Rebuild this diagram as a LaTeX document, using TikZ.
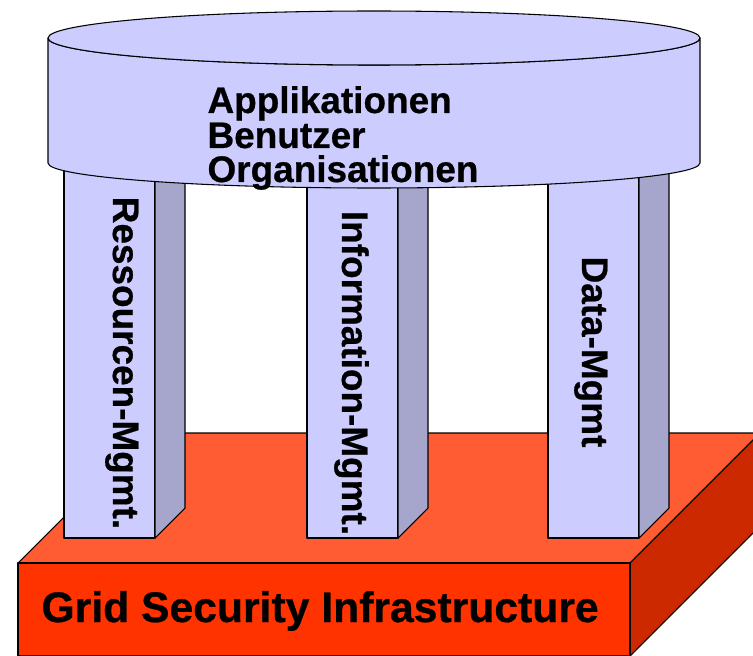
\documentclass[tikz,border=0pt]{standalone}
\usepackage{fontspec}
\setmainfont{Liberation Sans}[BoldFeatures = {FakeBold = 0.6}]
\usetikzlibrary{positioning}
\definecolor{disk}{HTML}{CCCCFF}
\definecolor{pillarside}{HTML}{A6A6CC}
\definecolor{basefront}{HTML}{FF3300}
\definecolor{basetop}{HTML}{FF5C33}
\definecolor{baseright}{HTML}{CC2900}

\begin{document}
\begin{tikzpicture}[x = 0.75pt, y = -0.75pt, line width = 0.8pt, line join = round,
		lbl/.style = {inner sep = 0pt, font = \bfseries\fontsize{27.7}{30}\selectfont},
		biglbl/.style = {inner sep = 0pt, font = \bfseries\fontsize{32}{34}\selectfont}]
		\useasboundingbox (0, 0) rectangle (753, 656);
		\clip (0, 0) rectangle (753, 656);
		%%%%%%%%%%%%%
		\draw [fill = basetop] (18, 563) -- (148, 433) -- (760, 433) -- (630, 563) -- cycle;
		\draw [fill = baseright] (630, 563) -- (760, 433) -- (760, 526) -- (630, 656) -- cycle;
		\draw [fill = basefront] (18, 563) rectangle (630, 656);
		\node [biglbl, anchor = base west] (gsi) at (41, 622) {Grid Security Infrastructure};
		%%%%%%%%%%%%%
		\foreach \px/\tx/\ty/\name/\txt in {64/113/363/res/Ressourcen-Mgmt., 307/342/373/info/Information-Mgmt., 548/582/352/data/Data-Mgmt}
		{
			\draw [fill = disk] (\px, 150) rectangle (\px + 91, 538);
			\draw [fill = pillarside] (\px + 91, 538) -- (\px + 121, 508) -- (\px + 121, 150) -- (\px + 91, 150) -- cycle;
			\node [lbl, rotate = -90, anchor = base] (\name) at (\tx, \ty) {\txt};
		}
		%%%%%%%%%%%%%
		\draw [fill = disk] (48, 38) -- (48, 163) arc [start angle = 180, end angle = 0, x radius = 326, y radius = 25]
			-- (700, 38) arc [start angle = 0, end angle = 180, x radius = 326, y radius = 27] -- cycle;
		\draw [fill = disk] (374, 38) ellipse [x radius = 326, y radius = 27];
		%%%%%%%%%%%%%
		\node [lbl, anchor = base west] (apps) at (207, 113) {Applikationen};
		\node [lbl, anchor = base west] (users) at (207, 148) {Benutzer};
		\node [lbl, anchor = base west] (orgs) at (207, 182) {Organisationen};
\end{tikzpicture}
\end{document}
